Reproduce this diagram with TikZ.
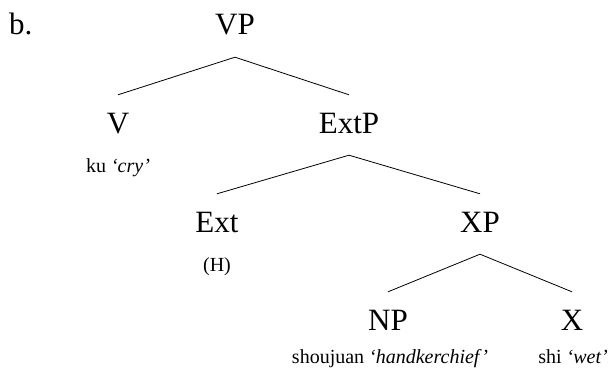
\documentclass[tikz,border=0pt]{standalone}
\usepackage{fontspec}
\setmainfont{Liberation Serif}
\usetikzlibrary{positioning}

\begin{document}
\begin{tikzpicture}[x=1pt, y=-1pt,
      cat/.style={inner sep=0pt, anchor=base, text height=21pt, text depth=0pt,
                  font=\fontsize{31}{31}\selectfont},
      gloss/.style={inner sep=0pt, anchor=base, font=\fontsize{20}{20}\selectfont},
      branch/.style={line width=0.8pt}]
    \useasboundingbox (0,0) rectangle (608,369);
    \node[cat, anchor=base west] (lbl) at (9,35) {b.};
    % categories
    \node[cat] (vp)   at (235,35)  {VP};
    \node[cat] (v)    at (118,133) {V};
    \node[cat] (extp) at (349,133) {ExtP};
    \node[cat] (ext)  at (217,232) {Ext};
    \node[cat] (xp)   at (480,232) {XP};
    \node[cat] (np)   at (388,330) {NP};
    \node[cat] (x)    at (572,330) {X};
    % glosses under the heads
    \node[gloss] (vgl)   at ([yshift=-39pt]v.base)   {ku \textit{`cry'}};
    \node[gloss] (extgl) at ([yshift=-39pt]ext.base) {(H)};
    \node[gloss] (npgl)  at ([xshift=2pt, yshift=-33pt]np.base) {shoujuan \textit{`handkerchief'}};
    \node[gloss] (xgl)   at ([xshift=1pt, yshift=-33pt]x.base)  {shi \textit{`wet'}};
    % branches
    \draw[branch] ([yshift=17pt]v.north) -- ([yshift=-22pt]vp.south) -- ([yshift=17pt]extp.north);
    \draw[branch] ([yshift=17pt]ext.north) -- ([yshift=-22pt]extp.south) -- ([yshift=17pt]xp.north);
    \draw[branch] ([yshift=17pt]np.north) -- ([yshift=-22pt]xp.south) -- ([yshift=17pt]x.north);
  \end{tikzpicture}
\end{document}
